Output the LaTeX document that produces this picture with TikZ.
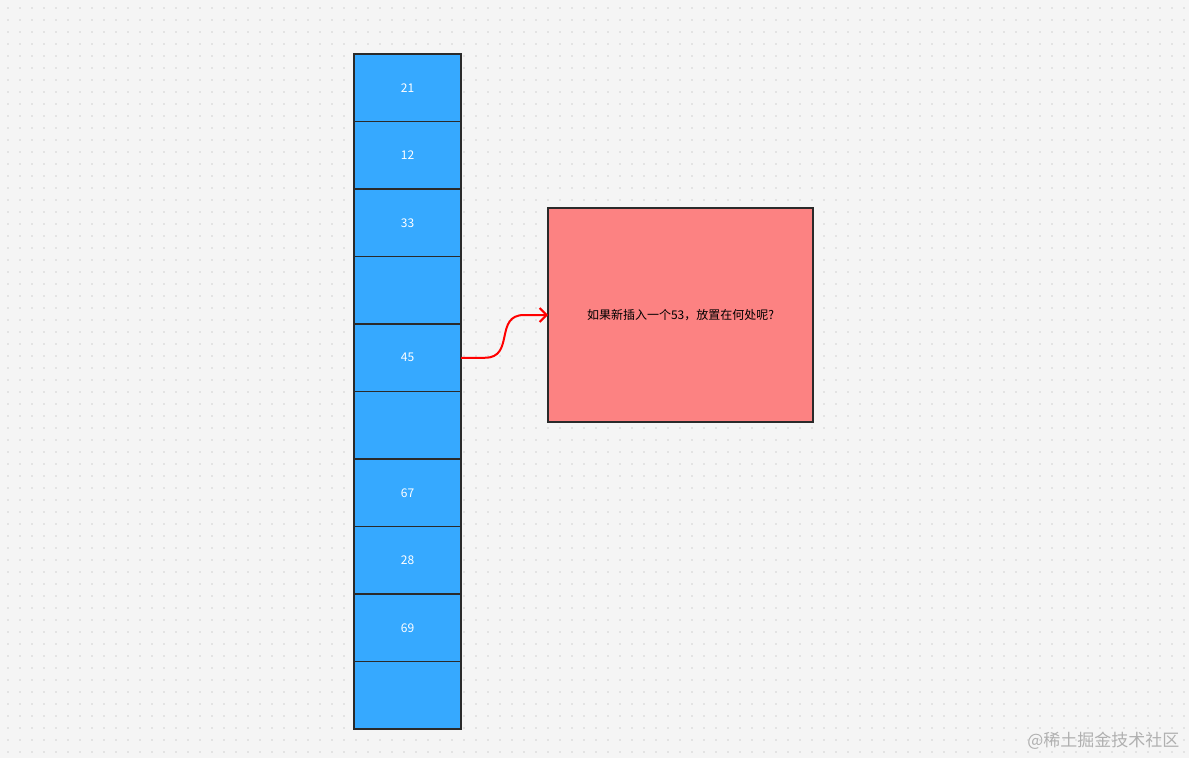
\documentclass[tikz,border=0pt]{standalone}
\usepackage{fontspec}
\setmainfont{Noto Sans CJK SC}
\newfontfamily\cjk{Noto Sans CJK SC}
\usetikzlibrary{arrows.meta}
\definecolor{bg}{HTML}{F5F5F5}
\definecolor{dotc}{HTML}{D2D2D2}
\definecolor{cellblue}{HTML}{36A9FF}
\definecolor{boxred}{HTML}{FC8282}
\definecolor{edge}{HTML}{2A2A2A}
\definecolor{wm}{HTML}{B0B0B0}
\tikzset{
  cell/.style={fill=cellblue, minimum width=107pt, minimum height=67.5pt, inner sep=0pt, outer sep=0pt, text=white, font=\cjk\fontsize{12}{14}\selectfont},
  cellrim/.style={draw=edge, line width=1.7pt},
  note/.style={draw=edge, line width=1.7pt, fill=boxred, minimum width=265pt, minimum height=214pt, inner sep=0pt, outer sep=0pt, font=\cjk\fontsize{12}{14}\selectfont},
  link/.style={draw=red, line width=2pt, -{Straight Barb[length=7pt,width=14pt,line width=2pt]}}
}
\begin{document}
\begin{tikzpicture}[x=1pt,y=-1pt]
\fill[bg] (0,0) rectangle (1189,758);
\useasboundingbox (0,0) rectangle (1189,758);
\foreach \i in {0,...,98}{
  \foreach \j in {0,...,62}{
    \fill[dotc] (8+12*\i,8+12*\j) circle (0.8pt);
  }
}
\node[cell] (c0) at (407.5,87.75) {21};
\node[cell] (c1) at (407.5,155.25) {12};
\node[cell] (c2) at (407.5,222.75) {33};
\node[cell] (c3) at (407.5,290.25) {};
\node[cell] (c4) at (407.5,357.75) {45};
\node[cell] (c5) at (407.5,425.25) {};
\node[cell] (c6) at (407.5,492.75) {67};
\node[cell] (c7) at (407.5,560.25) {28};
\node[cell] (c8) at (407.5,627.75) {69};
\node[cell] (c9) at (407.5,695.25) {};
\foreach \k in {0,...,9}{
  \draw[cellrim] (c\k.north west) rectangle (c\k.south east);
}
\node[note] (q) at (680.5,315) {如果新插入一个53，放置在何处呢?};
\draw[link] (c4.east) -- ++(24,0) .. controls +(30,0) and +(-30,0) .. ([xshift=-24pt]q.west) -- (q.west);
\node[text=wm, font=\cjk\fontsize{17}{19}\selectfont, anchor=east] (wmk) at (1183,741) {@稀土掘金技术社区};
\end{tikzpicture}
\end{document}
